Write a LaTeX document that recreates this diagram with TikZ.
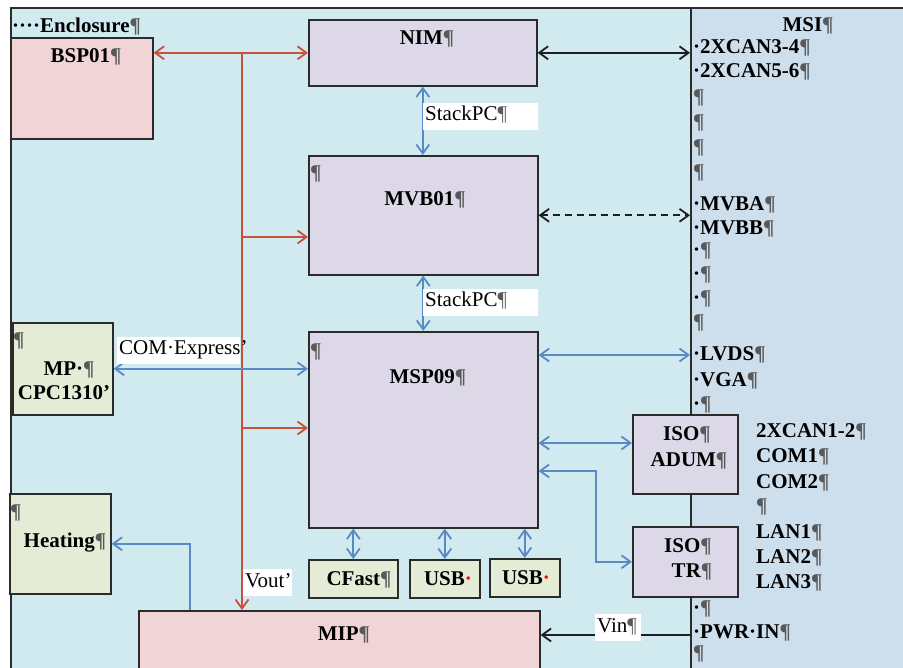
\documentclass[tikz,border=0pt]{standalone}
\usepackage{fontspec}
\setmainfont{Liberation Serif}
\usepackage{xcolor}
\usepackage{tikz}
\usetikzlibrary{arrows.meta, positioning, calc}
\definecolor{encbg}{HTML}{D0EAF0}
\definecolor{msibg}{HTML}{CDDEEC}
\definecolor{pwrbg}{HTML}{F0D4D6}
\definecolor{cpubg}{HTML}{DDD8E8}
\definecolor{extbg}{HTML}{E4ECD6}
\definecolor{boxline}{HTML}{2B2B2B}
\definecolor{pwrline}{HTML}{C9503C}
\definecolor{busline}{HTML}{5A8AC6}
\definecolor{sigline}{HTML}{1E1E1E}
\newcommand{\pil}{{\color{black!65}¶}}

\begin{document}
\begin{tikzpicture}[
  x=1pt, y=-1pt,
  >={Straight Barb[length=9pt, width=13pt]},
  every node/.style={font=\bfseries\fontsize{21}{25}\selectfont},
  blk/.style={
    rectangle, draw=boxline, line width=1.6pt,
    inner sep=0pt, anchor=north west
  },
  pwrbox/.style={blk, fill=pwrbg},
  cpubox/.style={blk, fill=cpubg},
  extbox/.style={blk, fill=extbg},
  txt/.style={inner sep=0pt, anchor=base},
  msitxt/.style={inner sep=0pt, anchor=base west},
  tag/.style={
    fill=white, font=\fontsize{21}{25}\selectfont,
    inner xsep=2pt, inner ysep=3pt, text height=15pt, text depth=6pt,
    align=left, anchor=base west
  },
  rarr/.style={draw=pwrline, line width=1.8pt},
  barr/.style={draw=busline, line width=1.8pt},
  karr/.style={draw=sigline, line width=1.8pt}
]
\clip (0,0) rectangle (903,668);
\fill[white] (0,0) rectangle (903,668);

% enclosure and MSI side
\node[blk, fill=encbg, minimum width=680pt, minimum height=690pt] (enc) at (10,7) {};
\node[blk, fill=msibg, minimum width=240pt, minimum height=690pt] (msi) at (690,7) {};
\node[msitxt] (enct) at (12,33) {····Enclosure\pil};

% boxes
\node[pwrbox, minimum width=142pt, minimum height=101pt] (bsp)   at (10,37)   {};
\node[cpubox, minimum width=228pt, minimum height=66pt]  (nim)   at (308,19)  {};
\node[cpubox, minimum width=229pt, minimum height=119pt] (mvb)   at (308,155) {};
\node[cpubox, minimum width=229pt, minimum height=196pt] (msp)   at (308,331) {};
\node[extbox, minimum width=100pt, minimum height=92pt]  (mp)    at (12,322)  {};
\node[extbox, minimum width=101pt, minimum height=100pt] (heat)  at (9,493)   {};
\node[pwrbox, minimum width=401pt, minimum height=80pt]  (mip)   at (138,610) {};
\node[extbox, minimum width=89pt, minimum height=38pt]   (cfast) at (308,559) {};
\node[extbox, minimum width=70pt, minimum height=38pt]   (usba)  at (409,559) {};
\node[extbox, minimum width=70pt, minimum height=38pt]   (usbb)  at (489,558) {};
\node[cpubox, minimum width=105pt, minimum height=79pt]  (adum)  at (632,414) {};
\node[cpubox, minimum width=105pt, minimum height=70pt]  (isotr) at (632,526) {};

% box texts
\node[txt] (bspt)   at (86,63)   {BSP01\pil};
\node[txt] (nimt)   at (427,45)  {NIM\pil};
\node[msitxt] (mvbp) at (310,180) {\pil};
\node[txt] (mvbt)   at (425,206) {MVB01\pil};
\node[msitxt] (mspp) at (310,358) {\pil};
\node[txt] (mspt)   at (428,384) {MSP09\pil};
\node[msitxt] (mpp) at (13,347)  {\pil};
\node[txt] (mpt)    at (69,376)  {MP·\pil};
\node[txt] (cpct)   at (64,400)  {CPC1310’};
\node[msitxt] (heatp) at (10,518) {\pil};
\node[txt] (heatt)  at (65,547)  {Heating\pil};
\node[txt] (mipt)   at (344,640) {MIP\pil};
\node[txt] (cfastt) at (359,585) {CFast\pil};
\node[txt] (usbat)  at (448,585) {USB{\color{red}·}};
\node[txt] (usbbt)  at (526,584) {USB{\color{red}·}};
\node[txt] (aduma)  at (687,441) {ISO\pil};
\node[txt] (adumb)  at (689,467) {ADUM\pil};
\node[txt] (tra)    at (688,552) {ISO\pil};
\node[txt] (trb)    at (692,577) {TR\pil};

% MSI side texts
\node[txt] (msit) at (808,32) {MSI\pil};
\node[msitxt] (can34) at (693,54)  {·2XCAN3-4\pil};
\node[msitxt] (can56) at (693,78)  {·2XCAN5-6\pil};
\node[msitxt] (e1)    at (693,104) {\pil};
\node[msitxt] (e2)    at (693,129) {\pil};
\node[msitxt] (e3)    at (693,154) {\pil};
\node[msitxt] (e4)    at (693,179) {\pil};
\node[msitxt] (mvba)  at (693,211) {·MVBA\pil};
\node[msitxt] (mvbb)  at (693,235) {·MVBB\pil};
\node[msitxt] (e5)    at (693,257) {·\pil};
\node[msitxt] (e6)    at (693,281) {·\pil};
\node[msitxt] (e7)    at (693,305) {·\pil};
\node[msitxt] (e8)    at (693,329) {\pil};
\node[msitxt] (lvds)  at (693,361) {·LVDS\pil};
\node[msitxt] (vga)   at (693,387) {·VGA\pil};
\node[msitxt] (e9)    at (693,410) {·\pil};
\node[msitxt] (can12) at (756,438) {2XCAN1-2\pil};
\node[msitxt] (com1)  at (756,463) {COM1\pil};
\node[msitxt] (com2)  at (756,488) {COM2\pil};
\node[msitxt] (e10)   at (756,512) {\pil};
\node[msitxt] (lan1)  at (756,538) {LAN1\pil};
\node[msitxt] (lan2)  at (756,563) {LAN2\pil};
\node[msitxt] (lan3)  at (756,588) {LAN3\pil};
\node[msitxt] (e11)   at (693,614) {·\pil};
\node[msitxt] (pwrin) at (693,638) {·PWR·IN\pil};
\node[msitxt] (e12)   at (693,659) {\pil};

% power lines
\coordinate (vbus)    at (242,52);
\coordinate (tapmvb)  at (242,237);
\coordinate (tapmsp)  at (242,428);
\draw[rarr, <->] (bsp.east |- nim.west) -- (nim.west);
\draw[rarr, ->] (vbus) -- (vbus |- mip.north);
\draw[rarr, ->] (tapmvb) -- (tapmvb -| mvb.west);
\draw[rarr, ->] (tapmsp) -- (tapmsp -| msp.west);

% signal lines
\coordinate (lvdsy) at (690,355);
\coordinate (vin)   at (690,635);
\coordinate (isoy)  at (632,443);
\coordinate (tray)  at (537,471);
\coordinate (bend)  at (596,471);
\coordinate (tapheat) at (190,610);
\draw[karr, <->] (nim.east) -- (nim.east -| msi.west);
\draw[karr, <->, dash pattern=on 7pt off 5pt] (mvb.east) -- (mvb.east -| msi.west);
\draw[karr, ->] (vin) -- (vin -| mip.east);
\draw[barr, <->] (nim.south) -- (nim.south |- mvb.north);
\draw[barr, <->] (mvb.south) -- (mvb.south |- msp.north);
\draw[barr, <->] (mp.east) -- (mp.east -| msp.west);
\draw[barr, <->] (lvdsy -| msp.east) -- (lvdsy);
\draw[barr, <->] (isoy -| msp.east) -- (isoy -| adum.west);
\draw[barr, <->] (tray -| msp.east) -- (bend) |- (isotr.west);
\draw[barr, <->] (cfast.north) -- (cfast.north |- msp.south);
\draw[barr, <->] (usba.north) -- (usba.north |- msp.south);
\draw[barr, <->] (usbb.north) -- (usbb.north |- msp.south);
\draw[barr, ->] (tapheat) |- (heat.east);

% line labels
\node[tag, text width=111pt] (stk1) at (423,121) {StackPC\pil};
\node[tag, text width=111pt] (stk2) at (423,307) {StackPC\pil};
\node[tag, text width=119pt] (comx) at (117,355) {COM·Express’};
\node[tag, text width=45pt]  (vout) at (243,587) {Vout’};
\node[tag, text width=42pt]  (vint) at (595,632) {Vin\pil};
\end{tikzpicture}
\end{document}
